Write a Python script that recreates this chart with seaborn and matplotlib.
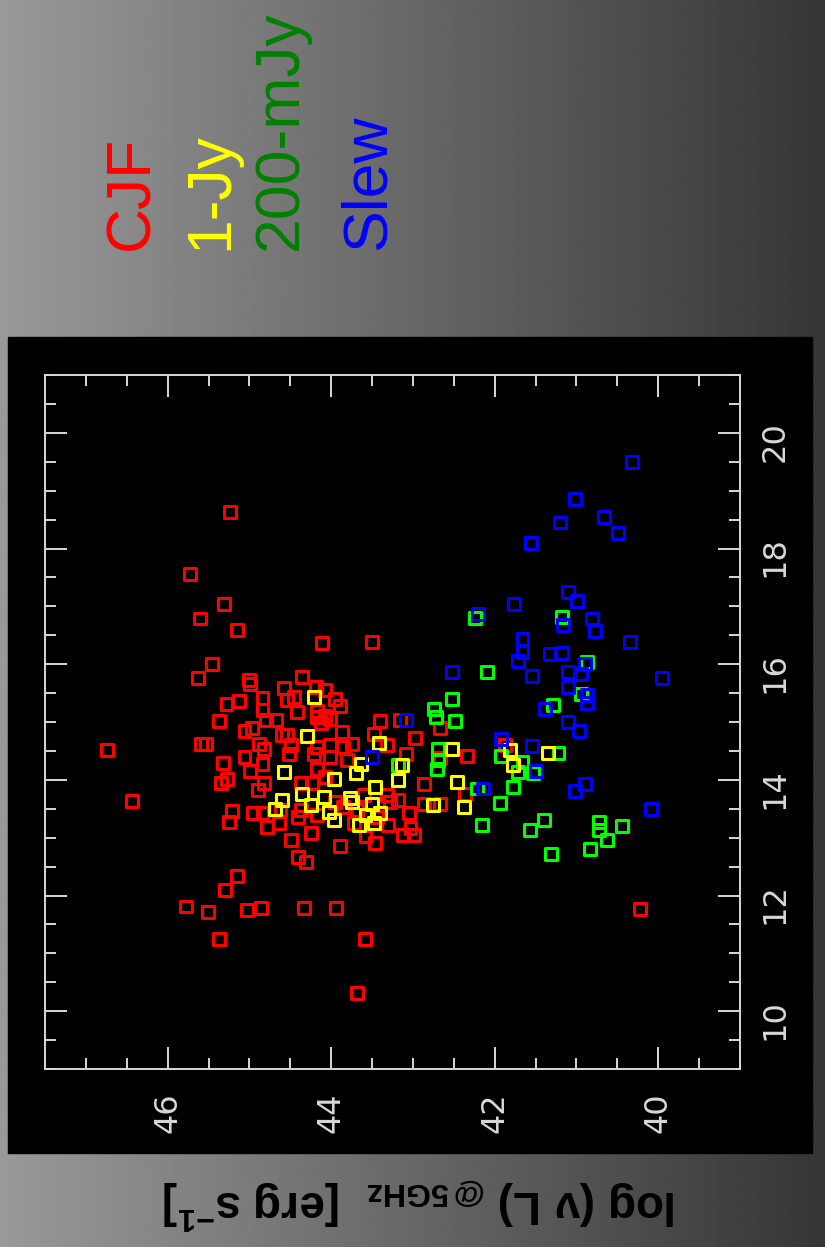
import numpy as np
import pandas as pd
import matplotlib
matplotlib.use("Agg")
import matplotlib.pyplot as plt
from matplotlib.patches import Rectangle
from matplotlib.markers import MarkerStyle
from matplotlib.ticker import MultipleLocator
import seaborn as sns

# log radio luminosity at 5 GHz (erg/s) and log synchrotron peak frequency (Hz)
cjf_L = [45.24, 45.73, 45.31, 45.61, 45.15, 44.11, 43.50, 45.46, 45.63, 45.01, 44.99, 44.36, 44.58, 44.18,
         44.07, 44.46, 44.84, 45.13, 45.28, 44.54, 44.84, 44.42, 45.37, 44.80, 44.68, 45.06, 44.97, 44.60,
         44.54, 44.17, 45.59, 45.53, 44.88, 44.49, 44.17, 44.82, 44.52, 44.21, 45.06, 45.32, 44.84, 44.99,
         44.17, 45.35, 45.27, 44.82, 44.90, 44.37, 44.23, 45.21, 44.96, 44.84, 44.62, 44.37, 44.40, 45.25,
         44.79, 44.64, 44.25, 44.49, 44.40, 44.31, 45.15, 43.95, 43.89, 44.17, 44.08, 44.02, 44.13, 43.87,
         43.74, 43.48, 43.40, 42.98, 43.16, 42.67, 43.85, 44.01,
         43.32, 43.09, 42.34, 43.81, 44.01, 44.07, 42.87, 42.36,
         43.60, 43.32, 43.28, 43.18, 42.87, 42.67, 43.95, 43.85, 43.68, 43.44, 44.17, 43.72, 43.30, 43.05,
         43.03, 42.99, 43.12, 43.58, 43.46, 43.89,
         42.67, 41.87, 46.74, 46.44,
         45.30, 45.77, 45.51, 45.03, 44.86, 44.33, 43.94, 45.37, 43.59, 43.68, 40.22]
cjf_nu = [18.63, 17.56, 17.04, 16.79, 16.59, 16.36, 16.39, 16.00, 15.76, 15.73, 15.66, 15.78, 15.59, 15.60,
          15.56, 15.44, 15.42, 15.37, 15.31, 15.38, 15.20, 15.17, 15.01, 15.03, 15.03, 14.84, 14.89, 14.77,
          14.77, 15.08, 14.62, 14.62, 14.62, 14.60, 14.57, 14.54, 14.45, 14.45, 14.39, 14.29, 14.28, 14.15,
          14.19, 13.95, 14.02, 13.95, 13.83, 13.94, 13.94, 13.46, 13.42, 13.42, 13.48, 13.48, 13.36, 13.27,
          13.18, 13.26, 13.08, 12.96, 12.66, 12.58, 12.34, 15.40, 15.28, 15.19, 15.11, 15.06, 14.99, 14.82,
          14.62, 14.80, 15.01, 14.73, 15.04, 14.89, 14.57, 14.60,
          14.60, 14.45, 14.42, 14.34, 14.39, 14.05, 13.92, 13.76,
          13.73, 13.73, 13.62, 13.65, 13.59, 13.59, 13.62, 13.53, 13.48, 13.36, 13.39, 13.25, 13.22, 13.42,
          13.16, 13.04, 13.04, 13.02, 12.90, 12.86,
          14.37, 14.60, 14.52, 13.64,
          12.10, 11.81, 11.71, 11.75, 11.79, 11.79, 11.79, 11.24, 11.24, 10.32, 11.76]

jy1_L = [44.21, 44.29, 43.42, 44.58, 44.36, 44.60, 44.69, 44.25, 43.64, 43.70, 43.13, 42.52, 43.18, 43.97,
         42.46, 43.46, 43.77, 43.74, 44.09, 43.50, 42.75, 42.38, 44.03, 43.97, 43.58, 43.40, 43.66, 43.48,
         41.81, 41.35, 41.78]
jy1_nu = [15.44, 14.75, 14.63, 14.14, 13.75, 13.65, 13.49, 13.56, 14.28, 14.11, 14.25, 14.54, 13.99, 14.02,
          13.96, 13.88, 13.68, 13.62, 13.70, 13.59, 13.56, 13.53, 13.45, 13.30, 13.39, 13.42, 13.22, 13.25,
          14.51, 14.47, 14.25]

mjy200_L = [42.24, 41.18, 40.87, 42.09, 40.95, 41.29, 42.52, 42.74, 42.72, 42.48, 42.69, 42.69, 42.71, 43.18,
            43.18, 41.92, 41.22, 41.66, 41.71, 41.53, 42.22, 41.78, 41.94, 42.15, 41.57, 41.40, 40.73, 40.73,
            40.63, 40.44, 40.83, 41.31]
mjy200_nu = [16.80, 16.81, 16.03, 15.86, 15.49, 15.30, 15.39, 15.23, 15.08, 15.01, 14.54, 14.34, 14.19, 14.25,
             13.99, 14.42, 14.47, 14.31, 14.14, 14.11, 13.85, 13.88, 13.60, 13.22, 13.14, 13.30, 13.27, 13.13,
             12.96, 13.20, 12.80, 12.71]

slew_L = [40.32, 41.02, 41.20, 40.66, 40.49, 41.56, 41.10, 40.99, 41.76, 42.20, 41.16, 40.81, 40.77, 40.34,
          41.66, 41.66, 41.71, 41.33, 41.18, 40.89, 41.54, 41.10, 40.95, 42.52, 39.95, 41.10, 40.87, 40.87,
          41.39, 41.10, 40.97, 41.92, 41.54, 41.50, 42.14, 41.02, 40.89, 40.09, 43.08, 43.50]
slew_nu = [19.49, 18.85, 18.45, 18.55, 18.26, 18.09, 17.24, 17.09, 17.04, 16.87, 16.68, 16.79, 16.58, 16.38,
           16.43, 16.21, 16.06, 16.18, 16.20, 16.00, 15.80, 15.86, 15.83, 15.86, 15.76, 15.61, 15.46, 15.33,
           15.23, 15.00, 14.85, 14.71, 14.58, 14.16, 13.85, 13.80, 13.92, 13.49, 15.03, 14.39]

samples = ["CJF", "1-Jy", "200-mJy", "Slew"]
marker_colors = ["#ff0000", "#ffff00", "#00ff00", "#0000ff"]
label_colors = ["#ff0000", "#ffff00", "#008000", "#0000ff"]
L_ticks = [40, 42, 44, 46]
nu_ticks = [10, 12, 14, 16, 18, 20]

sns.set_style("dark")
plt.rcParams["font.family"] = ["Liberation Sans", "DejaVu Sans"]
plt.rcParams["mathtext.fontset"] = "custom"
plt.rcParams["mathtext.rm"] = "Liberation Sans:bold"
plt.rcParams["mathtext.it"] = "Liberation Sans:bold"
plt.rcParams["mathtext.bf"] = "Liberation Sans:bold"

W, H = 825, 1247
fig = plt.figure(figsize=(W / 100, H / 100), dpi=100)

# grey gradient backdrop with a black panel behind the plot
bg = fig.add_axes([0, 0, 1, 1], zorder=-10)
grad = np.linspace(0.60, 0.21, 512)[None, :]
bg.imshow(grad, cmap="gray", vmin=0, vmax=1, aspect="auto", extent=[0, 1, 0, 1])
bg.add_patch(Rectangle((8 / W, 1 - 1153 / H), (812 - 8) / W, (1153 - 337) / H,
                       transform=bg.transAxes, color="black", zorder=2))
bg.set_xlim(0, 1)
bg.set_ylim(0, 1)
bg.axis("off")

ax = fig.add_axes([45 / W, 1 - 1069 / H, 695 / W, 694 / H])
ax.set_facecolor("black")

frames = []
for name, L, nu in zip(samples, [cjf_L, jy1_L, mjy200_L, slew_L], [cjf_nu, jy1_nu, mjy200_nu, slew_nu]):
    frames.append(pd.DataFrame({"L": L, "nu": nu, "sample": name}))
df = pd.concat(frames, ignore_index=True)

draw_order = ["CJF", "200-mJy", "1-Jy", "Slew"]
for z, name in enumerate(draw_order):
    col = marker_colors[samples.index(name)]
    sub = df[df["sample"] == name]
    sns.scatterplot(data=sub, x="L", y="nu", ax=ax, marker=MarkerStyle("s", joinstyle="round"),
                    s=74, color=col, facecolor="none", edgecolor=col, linewidth=2.2,
                    zorder=3 + z, legend=False)
for coll in ax.collections:
    coll.set_joinstyle("round")

ax.set_xlim(47.5, 39.0)
ax.set_ylim(9.0, 21.0)
ax.set_xticks(L_ticks)
ax.set_yticks(nu_ticks)
ax.xaxis.set_minor_locator(MultipleLocator(0.5))
ax.yaxis.set_minor_locator(MultipleLocator(0.5))
ax.set_xlabel("")
ax.set_ylabel("")
ax.grid(False)

fg = "#d8d8d8"
for sp in ax.spines.values():
    sp.set_color(fg)
    sp.set_linewidth(1.4)
    sp.set_visible(True)
ax.tick_params(which="both", direction="in", color=fg, width=1.4,
               bottom=True, top=True, left=True, right=True,
               labelbottom=True, labeltop=False, labelleft=False, labelright=True,
               labelcolor=fg, labelsize=23, labelrotation=90)
ax.tick_params(which="major", length=16)
ax.tick_params(which="minor", length=8)
ax.tick_params(axis="x", pad=17)
ax.tick_params(axis="y", pad=14)
for t in ax.get_xticklabels() + ax.get_yticklabels():
    t.set_fontfamily("DejaVu Sans")

# sample names, written sideways above the panel
name_x = [148, 227, 297, 385]
for name, col, xb in zip(samples, label_colors, name_x):
    fig.text(xb / W, 1 - 250 / H, name, rotation=90, rotation_mode="anchor",
             ha="left", va="baseline", fontsize=45, color=col)

# axis title, upside down under the panel
fig.text(420 / W, 1 - 1190 / H, r"log ($\nu$ L) ${}_{@\,5GHz}$  [erg s$^{-1}$]",
         rotation=180, rotation_mode="anchor", ha="center", va="baseline",
         fontsize=33, fontweight="bold", color="black")

fig.savefig("out.png", dpi=100)
